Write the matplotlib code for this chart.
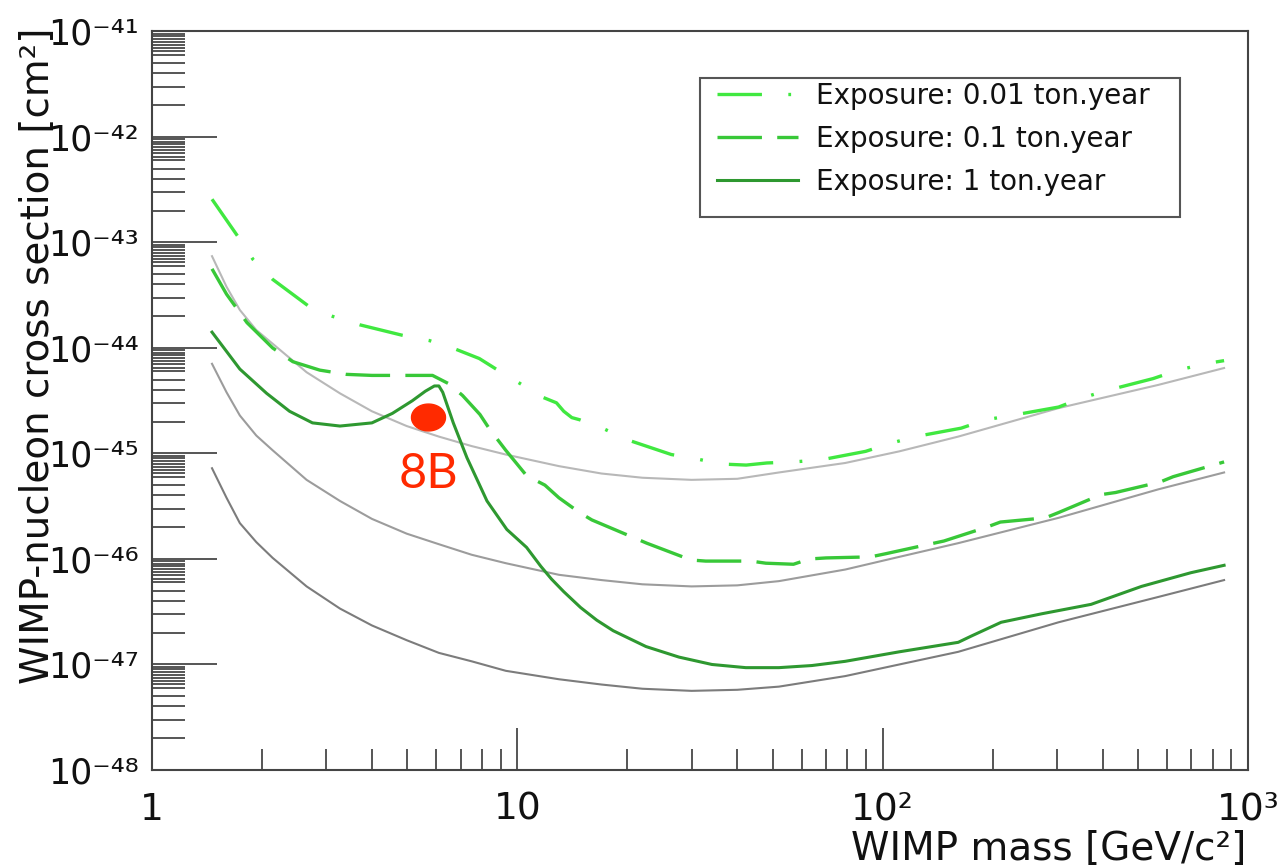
import matplotlib
matplotlib.use('Agg')
import matplotlib.pyplot as plt
import numpy as np
from matplotlib.lines import Line2D
from matplotlib.patches import Rectangle
from matplotlib.path import Path
from matplotlib.ticker import FixedLocator, FixedFormatter, NullFormatter

plt.rcParams['font.family'] = ['DejaVu Sans']
plt.rcParams['lines.scale_dashes'] = False

# WIMP mass [GeV/c^2] and log10(cross section [cm^2])
mass_001 = [1.46, 1.74, 1.89, 2.14, 2.70, 3.12, 3.70, 4.85, 5.75, 6.65, 7.87, 8.75, 10.1, 11.6, 12.8,
            13.4, 14.1, 14.8, 17.1, 20.0, 26.4, 30.8, 36.3, 42.3, 48.2, 57.0, 68.0, 89.8, 106, 123,
            164, 192, 225, 303, 354, 414, 550, 644, 762, 860]
log_001 = [-42.59, -42.97, -43.16, -43.35, -43.61, -43.70, -43.78, -43.88, -43.93, -44.00, -44.10, -44.20,
           -44.33, -44.46, -44.52, -44.60, -44.66, -44.68, -44.76, -44.87, -45.01, -45.05, -45.10, -45.11,
           -45.09, -45.08, -45.06, -44.98, -44.90, -44.84, -44.76, -44.68, -44.64, -44.56, -44.47, -44.40,
           -44.29, -44.21, -44.15, -44.12]

mass_01 = [1.46, 1.60, 1.82, 2.14, 2.43, 2.88, 3.40, 4.00, 4.97, 5.86, 6.50, 7.08, 7.90, 8.40, 9.30,
           10.6, 11.9, 13.0, 14.8, 16.0, 20.9, 22.6, 29.9, 32.8, 43.6, 47.9, 57.0, 63.0, 70.0, 92.7,
           102, 134, 147, 192, 210, 279, 303, 396, 434, 575, 624, 860]
log_01 = [-43.25, -43.49, -43.76, -44.00, -44.13, -44.21, -44.25, -44.26, -44.26, -44.26, -44.34, -44.45,
          -44.63, -44.77, -44.97, -45.21, -45.30, -45.42, -45.56, -45.63, -45.80, -45.85, -46.01, -46.02,
          -46.02, -46.04, -46.05, -46.00, -45.99, -45.98, -45.95, -45.86, -45.83, -45.70, -45.65, -45.61,
          -45.56, -45.39, -45.37, -45.27, -45.22, -45.08]

mass_1 = [1.46, 1.74, 2.06, 2.38, 2.75, 3.27, 4.00, 4.55, 5.16, 5.60, 5.93, 6.10, 6.25, 6.68, 7.28,
          8.26, 9.36, 10.6, 11.6, 12.4, 13.4, 14.9, 16.5, 18.3, 22.5, 27.7, 34.1, 42.2, 52.0, 64.0,
          79.0, 111, 161, 175, 211, 272, 372, 511, 698, 860]
log_1 = [-43.85, -44.20, -44.43, -44.60, -44.71, -44.74, -44.71, -44.62, -44.50, -44.41, -44.36, -44.36,
         -44.42, -44.71, -45.04, -45.45, -45.72, -45.89, -46.07, -46.19, -46.31, -46.46, -46.58, -46.68,
         -46.83, -46.93, -47.00, -47.03, -47.03, -47.01, -46.97, -46.88, -46.79, -46.73, -46.60, -46.52,
         -46.43, -46.26, -46.13, -46.06]

# thin grey curves
mass_gray = [1.46, 1.60, 1.74, 1.93, 2.14, 2.65, 3.27, 4.00, 4.98, 6.10, 7.50, 9.30, 13.0, 17.0, 22.0,
             30.0, 40.0, 52.0, 79.0, 111, 161, 303, 568, 860]
log_gray_top = [-43.13, -43.42, -43.64, -43.83, -43.96, -44.23, -44.43, -44.60, -44.74, -44.84, -44.93, -45.01,
                -45.12, -45.19, -45.23, -45.25, -45.24, -45.18, -45.09, -44.98, -44.84, -44.57, -44.35, -44.19]
log_gray_mid = [-44.15, -44.42, -44.64, -44.83, -44.97, -45.25, -45.45, -45.62, -45.76, -45.86, -45.96, -46.04,
                -46.15, -46.20, -46.24, -46.26, -46.25, -46.21, -46.10, -45.98, -45.85, -45.61, -45.34, -45.18]
log_gray_bot = [-45.14, -45.42, -45.66, -45.84, -45.99, -46.26, -46.47, -46.63, -46.77, -46.89, -46.97, -47.06,
                -47.14, -47.19, -47.23, -47.25, -47.24, -47.21, -47.11, -47.00, -46.88, -46.60, -46.36, -46.20]

# 8B marker
mass_8b = 5.71
log_8b = -44.65

legend_labels = ['Exposure: 0.01 ton.year', 'Exposure: 0.1 ton.year', 'Exposure: 1 ton.year']

x_ticks = [1, 10, 100, 1000]
x_tick_labels = ['1', '10', '10²', '10³']
y_decades = [-48, -47, -46, -45, -44, -43, -42, -41]
y_tick_labels = ['10⁻⁴⁸', '10⁻⁴⁷', '10⁻⁴⁶', '10⁻⁴⁵', '10⁻⁴⁴', '10⁻⁴³', '10⁻⁴²', '10⁻⁴¹']
y_minor_subs = [2, 3, 4, 5, 6, 6.5, 7, 7.5, 8, 8.5, 9, 9.5]

c_001 = '#40e840'
c_01 = '#38c838'
c_1 = '#2e9830'
red = '#ff2a00'

dashdot = (0, (32, 19, 2, 19))
dashed = (0, (32, 11))


def px(v):
    return v * 0.72


if __name__ == "__main__":
    fig = plt.figure(figsize=(12.77, 8.67), dpi=100)
    ax = fig.add_axes([0.1190, 0.1119, 0.8583, 0.8518])
    ax.set_xscale('log')
    ax.set_yscale('log')

    ax.plot(mass_gray, 10.0 ** np.array(log_gray_top), color='#b8b8b8', lw=1.5)
    ax.plot(mass_gray, 10.0 ** np.array(log_gray_mid), color='#9c9c9c', lw=1.5)
    ax.plot(mass_gray, 10.0 ** np.array(log_gray_bot), color='#7c7c7c', lw=1.5)

    ax.plot(mass_001, 10.0 ** np.array(log_001), color=c_001, lw=2.4, linestyle=dashdot)
    ax.plot(mass_01, 10.0 ** np.array(log_01), color=c_01, lw=2.4, linestyle=dashed)
    ax.plot(mass_1, 10.0 ** np.array(log_1), color=c_1, lw=2.2)

    # slightly flattened red dot
    t = np.linspace(0, 2 * np.pi, 60)
    ell = Path(np.column_stack([np.cos(t), 0.79 * np.sin(t)]))
    ax.plot([mass_8b], [10.0 ** log_8b], marker=ell, markersize=px(34), color=red, ls='none', zorder=5)
    ax.text(mass_8b, 10.0 ** (log_8b - 0.54), '8B', color=red, fontsize=35, ha='center', va='center',
            family=['Lato', 'DejaVu Sans'], zorder=5)

    ax.set_xlim(1, 1000)
    ax.set_ylim(1e-48, 1e-41)

    ax.xaxis.set_major_locator(FixedLocator(x_ticks))
    ax.xaxis.set_major_formatter(FixedFormatter(x_tick_labels))
    x_minor = [s * 10.0 ** d for d in range(0, 3) for s in range(2, 10)]
    ax.xaxis.set_minor_locator(FixedLocator(x_minor))
    ax.xaxis.set_minor_formatter(NullFormatter())

    y_major = [10.0 ** d for d in y_decades]
    ax.yaxis.set_major_locator(FixedLocator(y_major))
    ax.yaxis.set_major_formatter(FixedFormatter(y_tick_labels))
    y_minor = [s * 10.0 ** d for d in y_decades[:-1] for s in y_minor_subs]
    ax.yaxis.set_minor_locator(FixedLocator(y_minor))
    ax.yaxis.set_minor_formatter(NullFormatter())

    for sp in ax.spines.values():
        sp.set_linewidth(1.5)
        sp.set_color('#444444')

    ax.tick_params(axis='both', which='both', direction='in', color='#555555', width=1.4,
                   top=False, right=False, labelcolor='#111111')
    ax.tick_params(axis='x', which='major', length=px(42), pad=px(22), labelsize=27)
    ax.tick_params(axis='x', which='minor', length=px(21))
    ax.tick_params(axis='y', which='major', length=px(65), pad=px(13), labelsize=25)
    ax.tick_params(axis='y', which='minor', length=px(33))

    fig.text(38 / 1277, 1 - 28 / 867, 'WIMP-nucleon cross section [cm²]', rotation=90,
             ha='center', va='top', fontsize=28, color='#111111')
    fig.text(1246 / 1277, 7 / 867, 'WIMP mass [GeV/c²]', ha='right', va='baseline',
             fontsize=28, color='#111111')

    handles = [Line2D([], [], color=c_001, lw=2.4, linestyle=dashdot),
               Line2D([], [], color=c_01, lw=2.4, linestyle=dashed),
               Line2D([], [], color=c_1, lw=2.2)]
    leg = ax.legend(handles, legend_labels, loc='upper left', bbox_to_anchor=(0.5155, 0.9316),
                    frameon=False, fontsize=20, borderpad=0, borderaxespad=0,
                    handlelength=2.9, handletextpad=0.68, labelspacing=0.54)
    for txt in leg.get_texts():
        txt.set_color('#111111')
    ax.add_patch(Rectangle((0.5, 0.7488), 0.438, 0.1882, transform=ax.transAxes, fill=False,
                           edgecolor='#555555', lw=1.5, zorder=6))

    plt.savefig('out.png', dpi=100)
